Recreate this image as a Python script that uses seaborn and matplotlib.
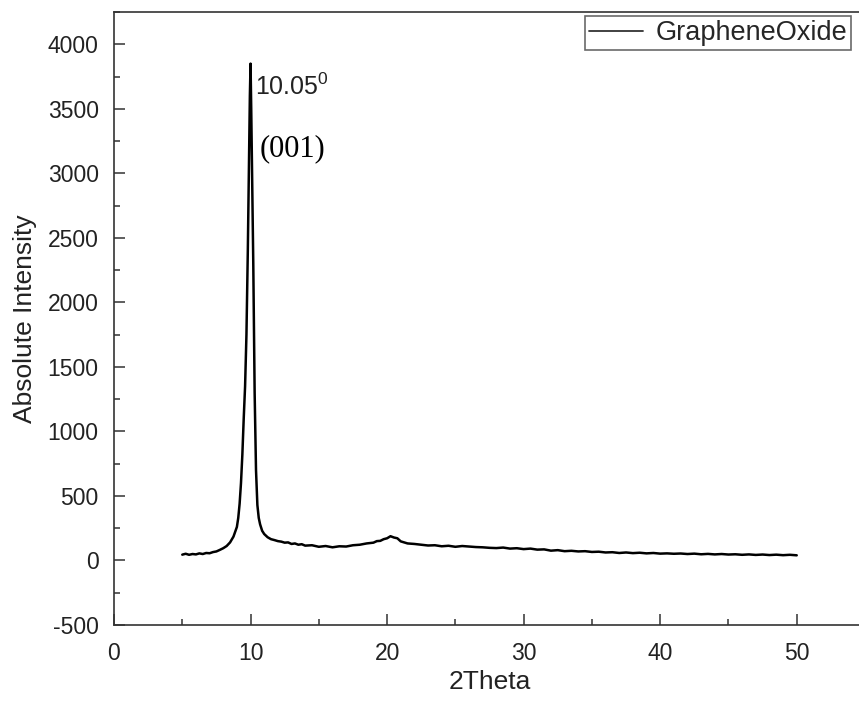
import numpy as np
import pandas as pd
import matplotlib
matplotlib.use('Agg')
import matplotlib.pyplot as plt
from matplotlib.ticker import MultipleLocator
import seaborn as sns

# XRD scan of graphene oxide
two_theta = [5.00, 5.25, 5.50, 5.75, 6.00, 6.25, 6.50, 6.75, 7.00, 7.25, 7.50, 7.75,
             8.00, 8.25, 8.50, 8.75, 9.00, 9.10, 9.20, 9.30, 9.40, 9.50, 9.60, 9.70,
             9.80, 9.90, 9.95, 10.00, 10.05, 10.10, 10.20, 10.30, 10.40, 10.50, 10.60,
             10.70, 10.85, 11.00, 11.25, 11.50, 11.75, 12.00, 12.25, 12.50, 12.75,
             13.00, 13.25, 13.50, 13.75, 14.00, 14.50, 15.00, 15.50, 16.00, 16.50,
             17.00, 17.50, 18.00, 18.50, 19.00, 19.25, 19.50, 19.75, 20.00, 20.25,
             20.50, 20.75, 21.00, 21.25, 21.50, 22.00, 22.50, 23.00, 23.50, 24.00,
             24.50, 25.00, 25.50, 26.00, 26.50, 27.00, 27.50, 28.00, 28.50, 29.00,
             29.50, 30.00, 30.50, 31.00, 31.50, 32.00, 32.50, 33.00, 33.50, 34.00,
             34.50, 35.00, 35.50, 36.00, 36.50, 37.00, 37.50, 38.00, 38.50, 39.00,
             39.50, 40.00, 40.50, 41.00, 41.50, 42.00, 42.50, 43.00, 43.50, 44.00,
             44.50, 45.00, 45.50, 46.00, 46.50, 47.00, 47.50, 48.00, 48.50, 49.00,
             49.50, 50.00]
intensity = [45, 52, 44, 50, 47, 55, 50, 58, 56, 65, 70, 82,
             95, 112, 140, 185, 260, 330, 440, 600, 820, 1100, 1350, 1750,
             2400, 3200, 3600, 3850, 3500, 3100, 2300, 1300, 700, 430, 330,
             280, 230, 205, 180, 165, 158, 150, 146, 138, 140,
             128, 132, 122, 126, 115, 118, 106, 112, 102, 110,
             108, 118, 122, 132, 138, 150, 152, 165, 172, 188,
             178, 172, 148, 140, 132, 128, 122, 116, 118, 110,
             114, 106, 112, 108, 104, 102, 98, 96, 100, 92,
             95, 88, 92, 84, 86, 76, 80, 72, 75, 70,
             72, 66, 68, 62, 64, 58, 62, 57, 60, 55,
             58, 53, 55, 52, 54, 50, 53, 48, 51, 47,
             50, 46, 48, 44, 47, 43, 46, 42, 45, 41,
             44, 40]

df = pd.DataFrame({'2Theta': two_theta, 'Absolute Intensity': intensity})

sns.set_style('ticks')
plt.rcParams['font.family'] = ['Liberation Sans', 'DejaVu Sans']
plt.rcParams['mathtext.default'] = 'regular'
plt.rcParams['axes.unicode_minus'] = False

fig = plt.figure(figsize=(8.59, 7.04), dpi=100)
ax = fig.add_axes([114 / 859, 79 / 704, 751 / 859, 613 / 704])

sns.lineplot(data=df, x='2Theta', y='Absolute Intensity', ax=ax, sort=False,
             color='black', linewidth=1.8, label='GrapheneOxide')

ax.set_xlim(0, 55)
ax.set_ylim(-500, 4250)
ax.xaxis.set_major_locator(MultipleLocator(10))
ax.xaxis.set_minor_locator(MultipleLocator(5))
ax.yaxis.set_major_locator(MultipleLocator(500))
ax.yaxis.set_minor_locator(MultipleLocator(250))
ax.tick_params(which='both', direction='in', colors='#333333', labelcolor='#222222',
               top=False, right=False)
ax.tick_params(which='major', length=8, width=1.1, labelsize=16.5)
ax.tick_params(axis='x', which='major', pad=12)
ax.tick_params(axis='y', which='major', pad=11)
ax.tick_params(which='minor', length=4.5, width=1.1)
for s in ax.spines.values():
    s.set_color('#333333')
    s.set_linewidth(1.2)
ax.spines['right'].set_visible(False)

ax.set_xlabel('2Theta', fontsize=19, color='#222222', labelpad=4)
ax.set_ylabel('Absolute Intensity', fontsize=19, color='#222222', labelpad=8)

ax.text(10.35, 3610, r'10.05$^0$', fontsize=18, color='#222222')
ax.text(10.7, 3130, '(001)', fontsize=22, family=['Liberation Serif', 'DejaVu Serif'],
        color='black')

leg = ax.legend(loc='upper left', bbox_to_anchor=(585 / 859, 1 - 16 / 704),
                bbox_transform=fig.transFigure, borderaxespad=0, fontsize=19.5,
                handlelength=2.0, handletextpad=0.45, fancybox=False, frameon=True,
                borderpad=0.15)
leg.get_frame().set_edgecolor('#444444')
leg.get_frame().set_linewidth(1.2)
for line in leg.get_lines():
    line.set_linewidth(1.3)
    line.set_color('#333333')

fig.savefig('out.png', dpi=100)
